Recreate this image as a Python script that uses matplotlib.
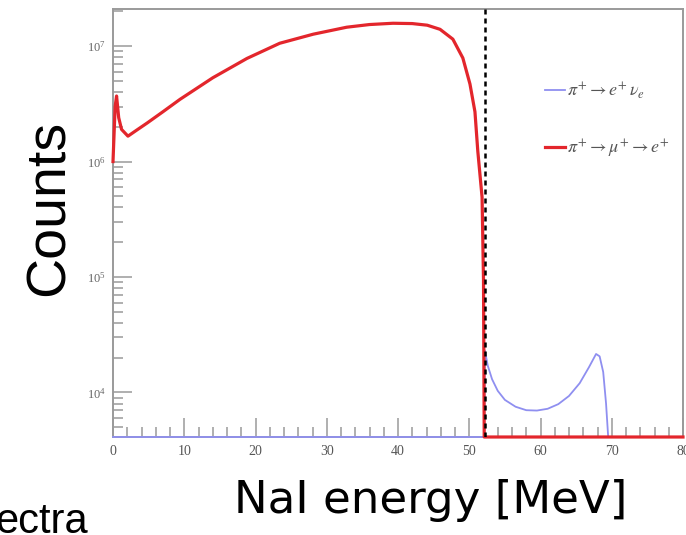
#
# NaI energy spectrum: pi -> e nu vs pi -> mu -> e (log counts)
#

import numpy as np
import matplotlib.pyplot as plt
from matplotlib.ticker import MultipleLocator, LogLocator, NullFormatter

# empty bins are drawn on the floor of the log axis
y_floor = 4.1e3
y_top = 2.1e7

# pi+ -> e+ nu_e (blue)
e_energy = [0.0, 52.1, 52.2, 52.6, 53.2, 54.0, 55.0, 56.5, 58.0, 59.5, 61.0, 62.5, 64.0, 65.5,
            66.8, 67.8, 68.3, 68.8, 69.2, 69.5, 80.0]
e_counts = [y_floor, y_floor, 2.3e4, 1.7e4, 1.3e4, 1.03e4, 8.6e3, 7.5e3, 7.0e3, 6.95e3, 7.2e3, 7.9e3, 9.3e3, 1.2e4,
            1.65e4, 2.15e4, 2.05e4, 1.5e4, 8.0e3, y_floor, y_floor]

# pi+ -> mu+ -> e+ (red)
mu_energy = [0.0, 0.3, 0.5, 0.8, 1.2, 2.1, 3.2, 4.8, 7.0, 9.4, 14.0, 18.8, 23.4, 28.1, 32.8, 36.0, 39.3,
             42.0, 44.1, 45.9, 47.7, 49.1, 50.1, 50.8, 51.2, 51.8, 52.0, 52.1, 80.0]
mu_counts = [1.0e6, 3.0e6, 3.7e6, 2.4e6, 1.9e6, 1.66e6, 1.85e6, 2.16e6, 2.7e6, 3.46e6, 5.32e6, 7.83e6, 1.06e7,
             1.27e7, 1.46e7, 1.54e7, 1.58e7, 1.57e7, 1.52e7, 1.4e7, 1.15e7, 7.9e6, 4.7e6, 2.7e6, 1.23e6,
             4.9e5, 9.3e4, y_floor, y_floor]

cut_energy = 52.2
x_ticks = [0, 10, 20, 30, 40, 50, 60, 70, 80]

label_e = r'$\pi^{+}\rightarrow e^{+}\,\nu_{e}$'
label_mu = r'$\pi^{+}\rightarrow \mu^{+}\rightarrow e^{+}$'

plt.rcParams['font.family'] = ['Liberation Serif', 'DejaVu Serif']
plt.rcParams['mathtext.fontset'] = 'stix'

fig = plt.figure(figsize=(6.86, 5.35), dpi=100)
ax = fig.add_axes([113/686, 98/535, 570/686, 428/535])

ax.plot(e_energy, e_counts, color='#8f8ff0', linewidth=1.3, label=label_e, clip_on=False, zorder=3)
ax.plot(mu_energy, mu_counts, color='#e3262c', linewidth=2.3, label=label_mu, clip_on=False, zorder=4)
ax.axvline(cut_energy, color='black', linestyle=(0, (2, 1.6)), linewidth=1.8, zorder=5)

ax.set_yscale('log')
ax.set_xlim(0, 80)
ax.set_ylim(y_floor, y_top)
ax.set_xticks(x_ticks)
ax.xaxis.set_minor_locator(MultipleLocator(2))
ax.yaxis.set_minor_locator(LogLocator(base=10, subs=np.arange(2, 10)))
ax.yaxis.set_minor_formatter(NullFormatter())

for side in ['left', 'right', 'top', 'bottom']:
      ax.spines[side].set_color('#9a9a9a')
      ax.spines[side].set_linewidth(1.4)

ax.tick_params(which='both', direction='in', color='#9a9a9a', width=1.1, top=False, right=False)
ax.tick_params(which='major', length=14)
ax.tick_params(which='minor', length=7)
ax.tick_params(axis='x', labelsize=10, labelcolor='#555555', pad=6)
ax.tick_params(axis='y', labelsize=9, labelcolor='#666666', pad=5)

leg = ax.legend(loc='upper left', bbox_to_anchor=(0.745, 0.85), frameon=False, fontsize=13,
                handlelength=1.1, handletextpad=0.1, labelspacing=2.0, borderaxespad=0)
for txt in leg.get_texts():
      txt.set_color('#555555')

# big slide labels
fig.text(50/686, 1 - 208/535, 'Counts', rotation=90, ha='center', va='center',
         fontsize=40, family='Liberation Sans')
fig.text(431/686, 22/535, 'NaI energy [MeV]', ha='center', va='baseline',
         fontsize=32.5, family='DejaVu Sans')
fig.text(88/686, 2/535, 'ectra', ha='right', va='baseline', fontsize=30, family='Liberation Sans')

fig.savefig('out.png', dpi=100)
